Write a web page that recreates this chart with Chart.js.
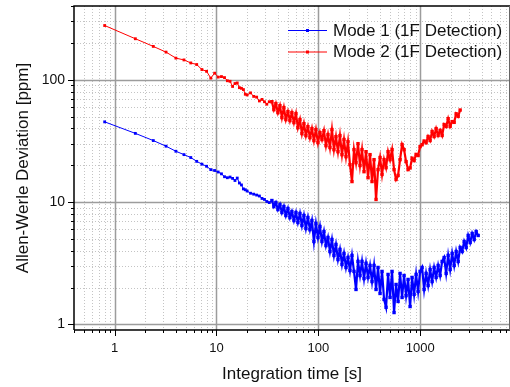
<!DOCTYPE html>
<html>
<head>
<meta charset="utf-8">
<script src="https://cdn.jsdelivr.net/npm/chart.js@4/dist/chart.umd.min.js"></script>
<style>
  body { margin: 0; background: #fff; }
  canvas { display: block; }
</style>
</head>
<body>
<canvas id="adev" width="510" height="387"></canvas>
<script>
// integration times [s] shared by both modes (mode 2 stops earlier)
const times = [
  0.8, 1.6, 2.4, 3.2, 4.0, 4.8, 5.6, 6.4, 7.2, 8.0, 8.8, 9.6, 10.4, 11.2, 12, 12.8,
  13.6, 14.4, 15.2, 16, 16.8, 17.6, 18.4, 19.2, 20, 21.6, 23.2, 24.8, 26.4, 28, 29.6, 31.2, 33,
  35, 36.6, 38.3, 40.1, 42, 43.9, 45.9, 48, 50.3, 52.6, 55, 57.6, 60.3, 63, 66, 69, 72.2,
  75.5, 79, 82.7, 86.5, 90.5, 94.7, 99.1, 103.7, 108.5, 113.5, 118.8, 124.3, 130, 136,
  142.3, 148.9, 155.8, 163, 170.6, 178.5, 186.8, 195.4, 204.4, 213.9, 223.8, 234.2, 245,
  256.4, 268.2, 280.7, 293.7, 307.3, 321.5, 336.4, 352, 368.3, 385.3, 403.2, 421.8, 441.4,
  461.8, 483.2, 505.5, 528.9, 553.4, 579, 605.8, 633.9, 663.2, 693.9, 726, 759.6, 794.8,
  831.6, 870.1, 910.4, 952.5, 996.6, 1042.8, 1091, 1141.5, 1194.4, 1249.7, 1307.6, 1368.1,
  1431.5, 1497.8, 1567.1, 1639.7, 1715.6, 1795, 1878.2, 1965.1, 2056.1, 2151.3, 2250.9,
  2355.1, 2464.2, 2578.2, 2697.6, 2822.5, 2953.2, 3090, 3233, 3382.7, 3539.4, 3703.3,
];

// Allan-Werle deviation [ppm]
const mode1 = [
  45.2, 36.4, 31.8, 28.6, 26, 24.4, 23.1, 21.5, 20.4, 19.6, 18.4, 18.1, 17.6, 17.0, 16.1, 15.8,
  16.0, 15.6, 15.0, 15.7, 14.3, 13.8, 12.8, 12.6, 12.3, 11.8, 11.6, 11.4, 11.2, 10.7, 10.5, 10.1, 9.9,
  10.29, 9.19, 9.91, 8.68, 9.54, 8.21, 9.19, 7.76, 8.85, 7.47,
  8.36, 7.06, 8.21, 6.80, 8.06, 6.43, 7.76, 6.08, 7.47, 5.96,
  7.06, 4.76, 6.67, 5.13, 6.31, 4.76, 5.74, 4.41, 5.13, 3.94,
  4.94, 3.66, 4.50, 3.39, 4.10, 3.09, 3.80, 2.92, 3.52, 2.76,
  3.66, 2.71, 1.93, 3.27, 2.51, 3.27, 2.37, 3.15, 2.42, 3.03,
  2.24, 3.03, 1.93, 2.92, 1.79, 2.71, 1.60, 1.38, 2.56, 1.66,
  2.71, 1.25, 2.12, 1.54, 2.61, 1.66, 2.51, 1.72, 2.33, 1.40,
  2.42, 1.76, 2.56, 1.86, 2.71, 2.92, 1.93, 2.61, 2.08, 2.81,
  2.24, 2.92, 2.42, 3.03, 2.51, 3.27, 3.52, 2.61, 3.66, 2.81,
  3.80, 3.03, 3.94, 3.27, 4.25, 3.94, 4.76, 4.25, 5.33, 4.67,
  5.53, 4.94, 5.74, 5.33,
];

const mode2 = [
  277, 216, 187, 168, 150, 145, 137, 133, 121, 117, 103, 113, 105, 106, 104, 98,
  97, 88, 93, 94, 86, 85, 83, 76, 75, 78, 73, 72, 67, 69, 66, 63, 66,
  66.1, 56.9, 63.7, 53.8, 61.3, 49.0, 59.1, 47.2, 54.8, 46.3,
  53.8, 44.6, 52.8, 40.6, 47.2, 36.3, 43.7, 34.9, 41.3, 33.6,
  39.8, 31.8, 39.1, 30.6, 36.9, 32.4, 38.3, 28.9, 35.6, 27.9,
  39.1, 26.8, 34.2, 25.8, 34.9, 24.4, 32.4, 23.5, 31.2, 20.2,
  14.7, 26.8, 21.0, 30.0, 19.9, 26.8, 17.7, 25.8, 15.8, 24.4,
  14.7, 22.2, 10.5, 18.4, 23.1, 16.8, 22.2, 19.1, 25.8, 22.2,
  26.8, 18.4, 15.3, 16.5, 22.2, 29.5, 26.8, 21.4, 18.4, 19.0,
  22.8, 21.8, 24.5, 24.0, 28.4, 29.4, 31.5, 30.5, 34.3, 31.8,
  37.7, 34.3, 39.8, 35.0, 38.5, 35.0, 43.0, 41.4, 48.0, 41.5,
  45.4, 44.8, 52.6, 50.1, 56.5,
];

const seriesLabels = ["Mode 1 (1F Detection)", "Mode 2 (1F Detection)"];
const seriesColors = ["#0000ff", "#ff0000"];

// index where the sparse, evenly sampled part ends and the noisy tail starts
const DENSE_FROM = 33;

const FONT = "'Liberation Sans', Arial, Helvetica, sans-serif";

function toPoints(values) {
  return values.map((v, i) => ({ x: times[i], y: v }));
}

// 1 -> major, 2..9 -> minor, anything else (1.5, axis ends) -> skip
function tickKind(v) {
  const e = Math.floor(Math.log10(v) + 1e-9);
  const m = v / Math.pow(10, e);
  const r = Math.round(m);
  if (Math.abs(m - r) > 1e-6) return null;
  return r === 1 || r === 10 ? "major" : "minor";
}

function decadeLabel(value) {
  return tickKind(value) === "major" ? String(value) : "";
}

// keep the plot box exactly where the scales are told to be
function noScalePadding(scale) {
  scale.paddingTop = 0;
  scale.paddingBottom = 0;
  scale.paddingLeft = 0;
  scale.paddingRight = 0;
}

const gridPlugin = {
  id: "logGrid",
  beforeDatasetsDraw(chart) {
    const { ctx, chartArea: a, scales } = chart;
    ctx.save();
    ["minor", "major"].forEach((pass) => {
      if (pass === "minor") {
        ctx.strokeStyle = "#c4c4c4";
        ctx.lineWidth = 1;
        ctx.setLineDash([1, 2]);
      } else {
        ctx.strokeStyle = "#9c9c9c";
        ctx.lineWidth = 1.5;
        ctx.setLineDash([]);
      }
      scales.x.ticks.forEach((t) => {
        if (tickKind(t.value) !== pass) return;
        const px = Math.round(scales.x.getPixelForValue(t.value)) + 0.5;
        if (px <= a.left + 1 || px >= a.right) return;
        ctx.beginPath();
        ctx.moveTo(px, a.top);
        ctx.lineTo(px, a.bottom);
        ctx.stroke();
      });
      scales.y.ticks.forEach((t) => {
        if (tickKind(t.value) !== pass) return;
        const py = Math.round(scales.y.getPixelForValue(t.value)) + 0.5;
        if (py <= a.top + 1 || py >= a.bottom) return;
        ctx.beginPath();
        ctx.moveTo(a.left, py);
        ctx.lineTo(a.right, py);
        ctx.stroke();
      });
    });
    ctx.restore();
  },
  afterDraw(chart) {
    const { ctx, chartArea: a, scales } = chart;
    ctx.save();
    // tick marks, outside the frame
    ctx.strokeStyle = "#000";
    ctx.lineWidth = 1;
    scales.x.ticks.forEach((t) => {
      const k = tickKind(t.value);
      if (!k) return;
      const px = Math.round(scales.x.getPixelForValue(t.value)) + 0.5;
      if (px < a.left || px > a.right) return;
      ctx.beginPath();
      ctx.moveTo(px, a.bottom);
      ctx.lineTo(px, a.bottom + (k === "major" ? 6 : 3));
      ctx.stroke();
    });
    scales.y.ticks.forEach((t) => {
      const k = tickKind(t.value);
      if (!k) return;
      const py = Math.round(scales.y.getPixelForValue(t.value)) + 0.5;
      if (py < a.top || py > a.bottom) return;
      ctx.beginPath();
      ctx.moveTo(a.left, py);
      ctx.lineTo(a.left - (k === "major" ? 6 : 3), py);
      ctx.stroke();
    });

    // frame
    ctx.lineWidth = 1.5;
    ctx.beginPath();
    ctx.moveTo(a.left, a.bottom);
    ctx.lineTo(a.left, a.top);
    ctx.lineTo(a.right, a.top);
    ctx.moveTo(a.left, a.bottom);
    ctx.lineTo(a.right, a.bottom);
    ctx.stroke();
    ctx.strokeStyle = "#666";
    ctx.lineWidth = 1;
    ctx.beginPath();
    ctx.moveTo(a.right - 0.5, a.top);
    ctx.lineTo(a.right - 0.5, a.bottom);
    ctx.stroke();

    // legend inside the plot, top right
    ctx.font = "17px " + FONT;
    ctx.textBaseline = "middle";
    ctx.textAlign = "left";
    seriesLabels.forEach((label, i) => {
      const y = 30 + i * 21.5;
      ctx.strokeStyle = seriesColors[i];
      ctx.fillStyle = seriesColors[i];
      ctx.lineWidth = 1;
      ctx.beginPath();
      ctx.moveTo(288, y + 0.5);
      ctx.lineTo(327, y + 0.5);
      ctx.stroke();
      ctx.fillRect(306, y - 1, 3, 3);
      ctx.fillStyle = "#111";
      ctx.fillText(label, 333, y + 1);
    });
    ctx.restore();
  },
};

function makeDataset(i, values) {
  return {
    label: seriesLabels[i],
    data: toPoints(values),
    showLine: true,
    borderColor: seriesColors[i],
    backgroundColor: seriesColors[i],
    borderWidth: 1,
    segment: {
      borderWidth: (c) => (c.p0DataIndex >= DENSE_FROM ? 2.2 : 1),
    },
    pointStyle: "rect",
    pointRadius: (c) => (c.dataIndex >= DENSE_FROM ? 2.4 : 2),
    pointBorderWidth: 0,
  };
}

new Chart(document.getElementById("adev"), {
  type: "scatter",
  data: {
    datasets: [makeDataset(0, mode1), makeDataset(1, mode2)],
  },
  options: {
    responsive: false,
    animation: false,
    devicePixelRatio: 1,
    layout: { autoPadding: false, padding: { top: 6, right: 0, left: 0, bottom: 0 } },
    plugins: {
      legend: { display: false },
      tooltip: { enabled: false },
    },
    elements: { line: { tension: 0 } },
    scales: {
      x: {
        type: "logarithmic",
        min: 0.4,
        max: 7600,
        afterFit: (scale) => {
          scale.height = 57;
          noScalePadding(scale);
        },
        grid: { display: false, drawTicks: false },
        border: { display: false },
        ticks: {
          autoSkip: false,
          maxRotation: 0,
          padding: 11,
          color: "#111",
          font: { family: FONT, size: 13 },
          callback: decadeLabel,
        },
        title: {
          display: true,
          text: "Integration time [s]",
          color: "#111",
          font: { family: FONT, size: 17 },
          padding: { top: 0, bottom: 2 },
        },
      },
      y: {
        type: "logarithmic",
        min: 0.9,
        max: 400,
        afterFit: (scale) => {
          scale.width = 74;
          noScalePadding(scale);
        },
        grid: { display: false, drawTicks: false },
        border: { display: false },
        ticks: {
          autoSkip: false,
          padding: 9,
          color: "#111",
          font: { family: FONT, size: 14 },
          callback: decadeLabel,
        },
        title: {
          display: true,
          text: "Allen-Werle Deviation [ppm]",
          color: "#111",
          font: { family: FONT, size: 17 },
          padding: { top: 13, bottom: 0 },
        },
      },
    },
  },
  plugins: [gridPlugin],
});
</script>
</body>
</html>
